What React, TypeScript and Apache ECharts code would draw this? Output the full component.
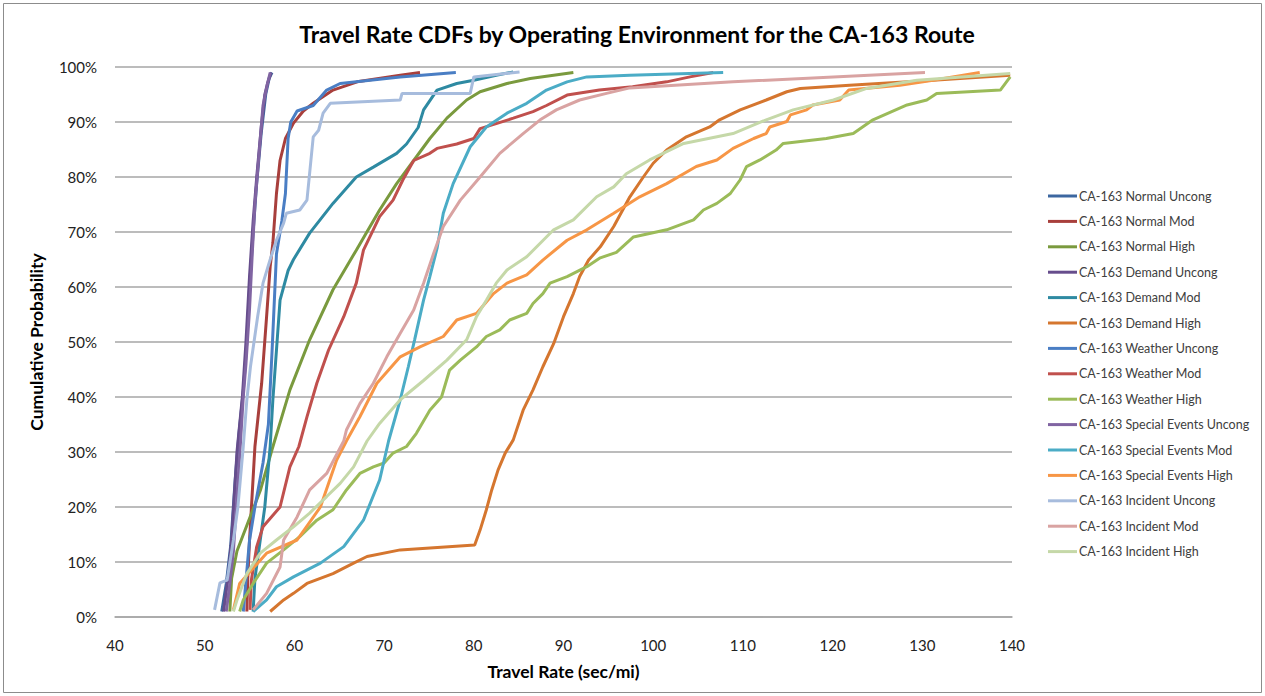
import React, { useEffect, useRef } from "react";
import * as echarts from "echarts";

const seriesNames = [
  "CA-163 Normal Uncong",
  "CA-163 Normal Mod",
  "CA-163 Normal High",
  "CA-163 Demand Uncong",
  "CA-163 Demand Mod",
  "CA-163 Demand High",
  "CA-163 Weather Uncong",
  "CA-163 Weather Mod",
  "CA-163 Weather High",
  "CA-163 Special Events Uncong",
  "CA-163 Special Events Mod",
  "CA-163 Special Events High",
  "CA-163 Incident Uncong",
  "CA-163 Incident Mod",
  "CA-163 Incident High",
];

const seriesColors = [
  "#3C67A0", "#A83F3C", "#7A9A3E", "#664D8C", "#2E8AA2", "#D5762F",
  "#4A7EC4", "#C0504D", "#9BBB59", "#8064A2", "#4BACC6", "#F79646",
  "#A7BCDD", "#D9A3A2", "#C5D8A8",
];

// [travel rate (sec/mi), cumulative probability (%)]
const normalUncong = [[51.9,1],[52.4,6],[52.9,13],[53.4,25],[53.8,33],[54.3,41],[54.7,50],[55.0,60],[55.4,70],[55.8,79],[56.3,88],[56.8,95],[57.2,98],[57.5,99]];
const normalMod = [[54.7,1],[54.8,7],[55.0,14],[55.6,31],[56.35,42.5],[56.9,54.6],[57.3,63.7],[57.6,68],[58.0,77],[58.4,83],[59.0,87],[59.9,89.8],[61.0,92],[62.1,93.4],[64.3,95.8],[67.0,97.3],[71.8,98.5],[74.0,99]];
const normalHigh = [[52.8,1],[53.0,7],[53.6,12],[56.2,23],[57.5,30.4],[59.5,41.3],[61.7,50.4],[64.3,59.5],[66.9,66.7],[69.5,74],[71.4,78.8],[73.3,83],[75.1,87],[77.0,90.7],[79.2,94],[80.7,95.5],[83.7,97],[86.3,97.9],[91.1,99]];
const demandUncong = [[52.1,1],[52.6,7],[53.0,14],[53.6,30],[54.2,40],[54.6,50],[55.0,62],[55.4,72],[55.8,80],[56.3,89],[56.7,95],[57.0,97],[57.4,99]];
const demandMod = [[55.4,1],[55.6,7],[56.7,20],[57.3,31],[57.6,39.5],[58.0,48.5],[58.4,57.6],[59.3,63],[59.9,65],[61.7,69.8],[64.3,75.2],[66.9,80],[68.8,81.8],[71.4,84.3],[72.5,86],[73.8,89],[74.4,92.2],[75.9,95.8],[78.1,97],[80.0,97.6],[82.5,98.5],[84.4,99.1]];
const demandHigh = [[57.3,1],[58.8,3.1],[59.9,4.3],[61.4,6.1],[64.3,7.9],[66.6,9.8],[68.1,11],[71.8,12.2],[80.1,13.1],[80.7,15.8],[81.4,19.5],[82.0,23.1],[82.7,26.7],[83.5,29.8],[84.4,32.2],[85.5,37.6],[86.6,41.3],[87.7,45.5],[88.9,49.7],[90.0,54.6],[91.1,58.8],[91.8,61.9],[92.8,64.9],[94.1,67.3],[95.6,71],[97.4,76.4],[98.9,80],[100.0,82.5],[101.5,84.9],[103.7,87.3],[106.3,89.1],[107.4,90.4],[109.7,92.2],[112.6,94],[114.9,95.5],[116.4,96.1],[121.9,96.7],[131.2,97.6],[139.8,98.5]];
const weatherUncong = [[54.3,1],[55.0,14],[55.6,20],[56.5,28],[57.1,35],[57.5,48],[58.0,66],[58.6,72],[59.0,77],[59.3,87],[59.6,90],[60.3,92],[62.1,93],[63.6,95.8],[65.1,97],[71.8,98.2],[78.0,99]];
const weatherMod = [[55.05,1.3],[55.2,6.7],[55.8,12.8],[56.5,16.4],[58.4,20],[59.5,27.3],[60.5,31],[61.4,36.4],[62.5,42.5],[63.8,48.5],[65.5,54.6],[66.9,60.7],[67.7,66.7],[69.5,72.8],[71.0,75.8],[72.1,79.5],[73.3,83],[75.1,84.3],[75.9,85.2],[78.1,86],[80.0,87],[80.7,88.8],[82.5,89.7],[84.4,90.7],[86.6,91.9],[88.1,93],[90.4,94.9],[94.0,95.8],[97.7,96.4],[101.5,97.3],[104.1,98.2],[106.7,99]];
const weatherHigh = [[53.9,1],[54.3,3.1],[55.4,6.1],[56.9,9.8],[58.8,12.2],[60.6,14.6],[62.5,17.6],[64.3,19.5],[65.8,23.1],[67.3,26.1],[68.8,27.3],[70.0,28],[71.0,29.8],[72.5,31],[73.6,33.4],[75.1,37.6],[76.4,40],[77.3,44.9],[78.5,46.7],[80.3,49.1],[81.4,51],[82.9,52.2],[84.0,54],[85.9,55.2],[86.6,57],[87.7,58.8],[88.5,60.7],[90.4,61.9],[92.6,63.7],[94.1,65.3],[95.9,66.3],[97.8,69.1],[101.5,70.4],[104.5,72.2],[105.6,74],[107.1,75.2],[108.6,77],[109.7,79.5],[110.4,81.9],[111.9,83.1],[113.7,84.9],[114.5,86.1],[119.3,87],[122.3,87.9],[124.5,90.4],[128.3,93.1],[130.5,94],[131.6,95.2],[138.7,95.8],[139.8,98.2]];
const specialUncong = [[52.4,1],[52.8,6],[53.2,12],[53.6,22],[54.0,32],[54.3,40],[54.6,46],[55.0,56],[55.3,66],[55.6,75],[56.1,85],[56.5,93],[57.0,97],[57.3,99]];
const specialMod = [[55.4,1],[56.9,3.1],[58.0,5.5],[59.9,7.3],[62.9,9.8],[65.5,12.8],[67.7,17.6],[69.5,24.9],[70.5,32],[71.8,39.5],[72.7,45.5],[73.4,50.4],[74.4,57.6],[75.1,61.9],[75.9,67],[76.6,73.4],[77.7,78.8],[79.6,85.5],[81.4,89.1],[83.7,91.6],[85.9,93.4],[88.1,95.8],[90.4,97.3],[92.6,98.2],[97.4,98.5],[107.8,99]];
const specialHigh = [[53.2,1.3],[53.9,6.1],[56.9,11.6],[60.3,14],[62.9,20],[64.7,28.5],[65.8,32],[67.3,36.4],[69.2,42.5],[71.8,47.3],[74.0,49.1],[76.6,51],[78.1,54],[80.3,55.2],[82.2,58.8],[83.7,60.7],[85.9,62.2],[87.7,64.9],[90.4,68.5],[92.6,70.4],[95.6,73.4],[98.5,76.4],[101.5,78.8],[104.8,81.9],[107.1,83.1],[108.9,85.2],[111.2,87],[112.6,87.9],[113.0,89.1],[114.9,90.1],[115.3,91.3],[117.1,92.2],[117.8,93.1],[120.8,94],[121.8,95.8],[127.5,96.7],[131.2,97.6],[136.4,99]];
const incidentUncong = [[51.1,1.3],[51.7,6.2],[52.5,6.7],[53.2,14],[53.7,20],[54.3,31],[54.7,39.5],[55.1,45.5],[55.9,54.6],[56.5,60.7],[57.3,65],[58.0,68.5],[58.8,71.6],[59.1,73.4],[60.6,74],[61.4,75.8],[61.7,80.7],[62.1,87.3],[62.7,88.5],[63.2,91.6],[64.0,93.4],[71.8,94],[72.0,95.2],[79.6,95.2],[80.0,98.2],[85.1,99.1]];
const incidentMod = [[55.4,1.3],[56.9,4.3],[58.4,9.1],[58.8,14],[60.3,18.2],[61.7,23.1],[63.6,26.1],[65.5,32],[65.8,34],[67.3,38.8],[68.8,42.5],[70.3,47.3],[71.8,51.6],[73.3,55.8],[74.4,60.7],[75.5,66],[76.6,71],[78.5,75.8],[80.7,80],[82.9,84.3],[85.5,87.9],[87.4,90.4],[89.2,92.2],[91.8,94],[94.8,95.2],[97.4,96.2],[108.9,97.3],[130.3,99]];
const incidentHigh = [[53.2,1],[53.6,3.1],[54.7,7.9],[56.2,11.6],[58.0,14],[59.9,16.4],[61.7,18.9],[63.6,21.9],[65.1,24.3],[66.6,27.3],[68.1,32],[69.5,35.2],[71.8,39.5],[74.4,43],[77.0,46.7],[79.2,50.4],[80.3,54.6],[81.4,57.6],[82.5,60.7],[83.7,63.1],[85.9,65.5],[88.9,70.4],[91.1,72.2],[93.7,76.4],[95.6,78.2],[97.0,80.6],[99.6,83.1],[103.4,86.1],[108.9,87.9],[112.6,90.4],[115.6,92.2],[120.1,94],[123.8,96.1],[129.4,97.6],[139.8,98.8]];

const seriesData = [
  normalUncong, normalMod, normalHigh,
  demandUncong, demandMod, demandHigh,
  weatherUncong, weatherMod, weatherHigh,
  specialUncong, specialMod, specialHigh,
  incidentUncong, incidentMod, incidentHigh,
];

const titleText = "Travel Rate CDFs by Operating Environment for the CA-163 Route";
const xAxisName = "Travel Rate (sec/mi)";
const yAxisName = "Cumulative Probability";

const FONT = "Lato, 'Open Sans', sans-serif";

export default function App() {
  const ref = useRef<HTMLDivElement>(null);

  useEffect(() => {
    document.body.style.margin = "0";
    const chart = echarts.init(ref.current!, null, { renderer: "svg" });
    chart.setOption({
      animation: false,
      backgroundColor: "#ffffff",
      textStyle: { fontFamily: FONT },
      title: {
        text: titleText,
        left: 632,
        textAlign: "center",
        top: 17,
        textStyle: { fontFamily: FONT, fontSize: 23, fontWeight: "bold", color: "#000" },
      },
      graphic: [
        {
          type: "rect",
          shape: { x: 3.5, y: 3.5, width: 1258, height: 689 },
          style: { fill: "none", stroke: "#8c8c8c", lineWidth: 1 },
          silent: true,
        },
      ],
      legend: {
        orient: "vertical",
        left: 1048,
        top: 189,
        padding: 0,
        icon: "rect",
        itemWidth: 29,
        itemHeight: 3,
        itemGap: 11.4,
        textStyle: { fontFamily: FONT, fontSize: 12.5, color: "#404040", lineHeight: 14, padding: [0, 0, 0, -3] },
        data: seriesNames,
      },
      grid: { left: 115, right: 253, top: 67, bottom: 79, containLabel: false },
      xAxis: {
        type: "value",
        min: 40,
        max: 140,
        interval: 10,
        name: xAxisName,
        nameLocation: "middle",
        nameGap: 45,
        nameTextStyle: { fontFamily: FONT, fontSize: 17.5, fontWeight: "bold", color: "#000" },
        axisLine: { show: true, lineStyle: { color: "#a6a6a6", width: 1.5 } },
        axisTick: { show: false },
        axisLabel: { fontFamily: FONT, fontSize: 15, color: "#222", margin: 20 },
        splitLine: { show: false },
      },
      yAxis: {
        type: "value",
        min: 0,
        max: 100,
        interval: 10,
        name: yAxisName,
        nameLocation: "middle",
        nameGap: 70,
        nameTextStyle: { fontFamily: FONT, fontSize: 17.5, fontWeight: "bold", color: "#000" },
        axisLine: { show: false },
        axisTick: { show: false },
        axisLabel: { fontFamily: FONT, fontSize: 15, color: "#222", margin: 18, formatter: "{value}%" },
        splitLine: { show: true, lineStyle: { color: "#a6a6a6", width: 1.5 } },
      },
      series: seriesNames.map((name, i) => ({
        name,
        type: "line",
        data: seriesData[i],
        symbol: "none",
        showSymbol: false,
        color: seriesColors[i],
        lineStyle: { width: 3, color: seriesColors[i] },
        emphasis: { disabled: true },
      })),
    });
    return () => chart.dispose();
  }, []);

  return <div ref={ref} style={{ width: 1265, height: 696 }} />;
}
